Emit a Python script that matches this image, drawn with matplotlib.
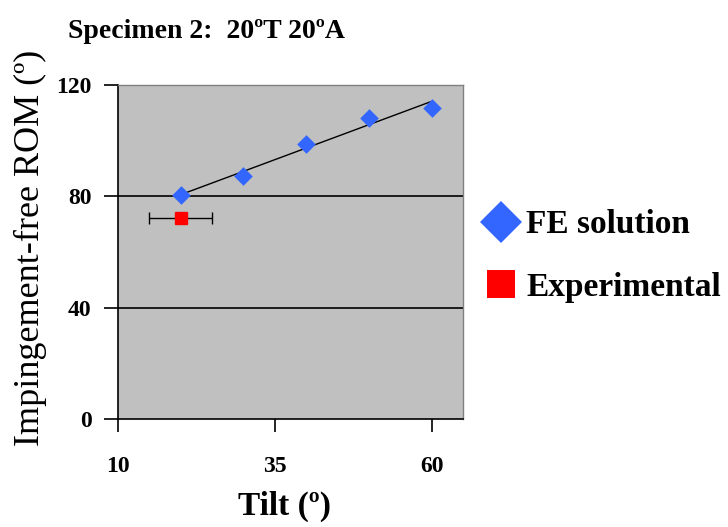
import numpy as np
import matplotlib.pyplot as plt
from matplotlib.lines import Line2D

# data
tilt_fe = [20, 30, 40, 50, 60]
rom_fe = [80.5, 87.3, 98.8, 108.3, 111.9]
tilt_exp = [20]
rom_exp = [72.1]
tilt_err = [5]

xticks = [10, 35, 60]
yticks = [0, 40, 80, 120]

serif = ['Liberation Serif', 'DejaVu Serif']
blue = '#3366FF'

fig = plt.figure(figsize=(7.28, 5.27), dpi=100)
ax = fig.add_axes([118/728, 1-419/527, (463-118)/728, (419-85)/527])
ax.set_facecolor('#C0C0C0')

# linear trend line through FE points
p = np.polyfit(tilt_fe, rom_fe, 1)
xl = np.array([min(tilt_fe), max(tilt_fe)])
ax.plot(xl, np.polyval(p, xl), color='black', lw=1.0, zorder=3)

ax.scatter(tilt_fe, rom_fe, marker='D', s=90, color=blue, zorder=4, linewidths=0)
ax.errorbar(tilt_exp, rom_exp, xerr=tilt_err, fmt='s', color='red', ms=8,
            ecolor='black', elinewidth=1.0, capsize=4, capthick=1.0, zorder=4)

for yv in [40, 80]:
    ax.axhline(yv, color='black', lw=1.2, zorder=2)

ax.set_xlim(10, 65)
ax.set_ylim(0, 120)
ax.set_xticks(xticks)
ax.set_yticks(yticks)
for s in ['left', 'bottom']:
    ax.spines[s].set_color('black')
    ax.spines[s].set_linewidth(1.2)
for s in ['top', 'right']:
    ax.spines[s].set_color('#808080')
    ax.spines[s].set_linewidth(1.0)

ax.tick_params(axis='y', direction='out', length=10, width=1.2, pad=9)
ax.tick_params(axis='x', direction='out', length=9, width=1.2, pad=18)
for lab in ax.get_xticklabels() + ax.get_yticklabels():
    lab.set_family(serif)
    lab.set_fontweight('bold')
    lab.set_fontsize(17)

fig.text(207/728, 1-31/527, 'Specimen 2:  20\u00baT 20\u00baA', ha='center', va='center',
         family=serif, fontweight='bold', fontsize=20)
fig.text(30/728, 1-248/527, 'Impingement-free ROM (\u00ba)', rotation=90, ha='center',
         va='center', family=serif, fontsize=26)
fig.text(284/728, 1-506/527, 'Tilt (\u00ba)', ha='center', va='center',
         family=serif, fontweight='bold', fontsize=24)

handles = [
    Line2D([], [], marker='D', color=blue, ls='none', ms=21, mew=0),
    Line2D([], [], marker='s', color='red', ls='none', ms=20, mew=0),
]
fig.legend(handles, ['FE solution', 'Experimental'], loc='center left',
           bbox_to_anchor=(451/728, 1-256/527), frameon=False,
           prop={'family': serif, 'weight': 'bold', 'size': 24},
           handletextpad=0.15, labelspacing=0.95, handlelength=1.2)

fig.savefig('out.png', dpi=100)
